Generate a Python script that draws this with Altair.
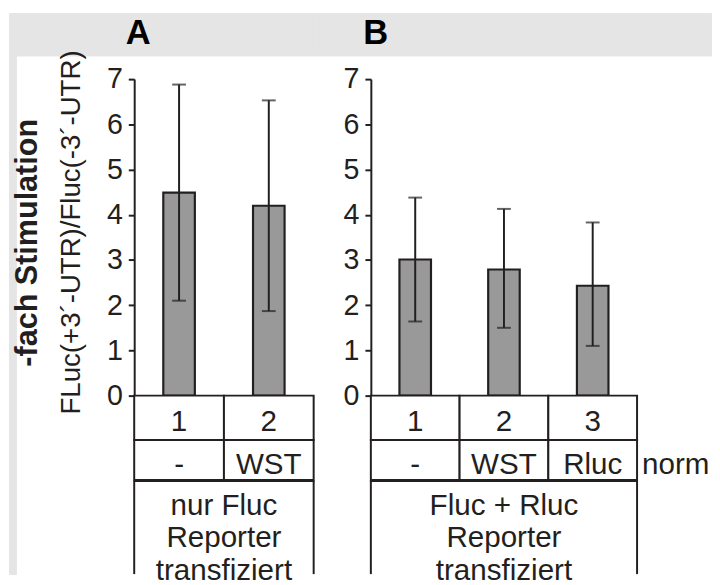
import altair as alt
import pandas as pd

# ---------------- data ----------------
panel = ["A", "A", "B", "B", "B"]
sample = ["1", "2", "1", "2", "3"]
normalization = ["-", "WST", "-", "WST", "Rluc"]
mean_val = [4.49, 4.20, 3.01, 2.79, 2.43]
err_hi = [6.88, 6.53, 4.38, 4.13, 3.83]
err_lo = [2.10, 1.87, 1.64, 1.50, 1.10]
panel_letters = ["A", "B"]
group_label = ["nur Fluc\nReporter\ntransfiziert", "Fluc + Rluc\nReporter\ntransfiziert"]
y_ticks = [0, 1, 2, 3, 4, 5, 6, 7]
y_title = "FLuc(+3´-UTR)/Fluc(-3´-UTR)"
y_title_bold = "-fach Stimulation"
norm_label = "norm"

df = pd.DataFrame({
    "panel": panel, "sample": sample, "norm": normalization,
    "mean": mean_val, "hi": err_hi, "lo": err_lo,
})

FONT = "Liberation Sans"
INK = "#231f20"
BAR = "#999999"
BG = "#e5e5e5"

# layout (pixels)
HDR_H, SPACER_H, PLOT_H = 43, 24, 321
ROW1_H, ROW2_H, ROW3_H = 45, 41, 95
C0, C1, WA, C3, WB, WB_HDR = 7, 120, 182, 58, 270, 345


def xenc():
    return alt.X("sample:N", scale=alt.Scale(paddingInner=0, paddingOuter=0), axis=None)


def blank(w, h, gray=False):
    c = alt.Chart(pd.DataFrame({"t": [""]})).mark_rect(opacity=0).encode(
        x=alt.value(0), x2=alt.value(1), y=alt.value(0), y2=alt.value(1))
    if gray:
        return c.properties(width=w, height=h, view=alt.ViewBackground(fill=BG, stroke=BG))
    return c.properties(width=w, height=h)


def header_cell(w, letter, xpos):
    t = alt.Chart(pd.DataFrame({"t": [letter]})).mark_text(
        font=FONT, fontSize=35, fontWeight="bold", color="black",
        baseline="alphabetic", align="center"
    ).encode(x=alt.value(xpos), y=alt.value(31), text="t:N")
    return t.properties(width=w, height=HDR_H, view=alt.ViewBackground(fill=BG, stroke=BG))


def bars_chart(letter, width, first):
    d = df[df["panel"] == letter]
    base = alt.Chart(d)
    axis_kw = dict(
        values=y_ticks, format="d", grid=False,
        labelFont=FONT, labelFontSize=29, labelColor=INK, labelPadding=6,
        tickColor=INK, tickSize=6, tickWidth=2,
        domainColor=INK, domainWidth=2,
    )
    if first:
        axis_kw.update(title=y_title, titleFont=FONT, titleFontSize=28,
                       titleFontWeight="normal", titleColor=INK,
                       titleAngle=270, titleBaseline="middle", titleAlign="center",
                       titleX=-63, titleY=155)
    else:
        axis_kw.update(title=None)
    Y = alt.Y("mean:Q", scale=alt.Scale(domain=[0, 7], nice=False, zero=True),
              axis=alt.Axis(**axis_kw))
    bars = base.mark_bar(size=32, fill=BAR, stroke=INK, strokeWidth=2.2).encode(x=xenc(), y=Y)
    rule = base.mark_rule(color=INK, strokeWidth=2).encode(x=xenc(), y="lo:Q", y2="hi:Q")
    cap_hi = base.mark_tick(size=14, thickness=2, color=INK).encode(x=xenc(), y="hi:Q")
    cap_lo = base.mark_tick(size=14, thickness=2, color=INK).encode(x=xenc(), y="lo:Q")
    layers = [bars, rule, cap_hi, cap_lo]
    if first:
        bold = alt.Chart(pd.DataFrame({"t": [y_title_bold]})).mark_text(
            angle=270, font=FONT, fontSize=31, fontWeight="bold", color=INK,
            baseline="middle", align="center"
        ).encode(x=alt.value(-108), y=alt.value(166), text="t:N")
        layers.append(bold)
    return alt.layer(*layers).properties(width=width, height=PLOT_H)


def row1(letter, width):
    base = alt.Chart(df[df["panel"] == letter])
    cells = base.mark_rect(fill="white", stroke=INK, strokeWidth=2).encode(
        x=xenc(), y=alt.value(0), y2=alt.value(ROW1_H))
    txt = base.mark_text(font=FONT, fontSize=30, color=INK, baseline="alphabetic").encode(
        x=xenc(), y=alt.value(36), text="sample:N")
    return alt.layer(cells, txt).properties(width=width, height=ROW1_H)


def row2(letter, width, last):
    base = alt.Chart(df[df["panel"] == letter])
    cells = base.mark_rect(fill="white", stroke=INK, strokeWidth=2).encode(
        x=xenc(), y=alt.value(0), y2=alt.value(ROW2_H))
    txt = base.mark_text(font=FONT, fontSize=30, color=INK, baseline="alphabetic").encode(
        x=xenc(), y=alt.value(34), text="norm:N")
    layers = [cells, txt]
    if last:
        nt = alt.Chart(pd.DataFrame({"t": [norm_label]})).mark_text(
            font=FONT, fontSize=30, color=INK, baseline="alphabetic", align="left"
        ).encode(x=alt.value(width + 5), y=alt.value(34), text="t:N")
        layers.append(nt)
    return alt.layer(*layers).properties(width=width, height=ROW2_H)


def row3(idx, width):
    one = alt.Chart(pd.DataFrame({"g": [group_label[idx]]}))
    left = one.mark_rule(color=INK, strokeWidth=2).encode(
        x=alt.value(0), y=alt.value(0), y2=alt.value(ROW3_H))
    right = one.mark_rule(color=INK, strokeWidth=2).encode(
        x=alt.value(width), y=alt.value(0), y2=alt.value(ROW3_H))
    top = one.mark_rule(color=INK, strokeWidth=3).encode(
        x=alt.value(0), x2=alt.value(width), y=alt.value(0))
    txt = one.mark_text(font=FONT, fontSize=30, color=INK, baseline="alphabetic",
                        lineBreak="\n", lineHeight=33).encode(
        x=alt.value(width / 2), y=alt.value(35), text="g:N")
    return alt.layer(left, right, top, txt).properties(width=width, height=ROW3_H)


cells = [
    # header row
    blank(C0, HDR_H, True), blank(C1, HDR_H, True),
    header_cell(WA, panel_letters[0], 4), blank(C3, HDR_H, True),
    header_cell(WB_HDR, panel_letters[1], 5),
    # spacer row
    blank(C0, SPACER_H, True), blank(C1, SPACER_H), blank(WA, SPACER_H),
    blank(C3, SPACER_H), blank(WB, SPACER_H),
    # bars row
    blank(C0, PLOT_H, True), blank(C1, PLOT_H), bars_chart("A", WA, True),
    blank(C3, PLOT_H), bars_chart("B", WB, False),
    # table row 1
    blank(C0, ROW1_H, True), blank(C1, ROW1_H), row1("A", WA),
    blank(C3, ROW1_H), row1("B", WB),
    # table row 2
    blank(C0, ROW2_H, True), blank(C1, ROW2_H), row2("A", WA, False),
    blank(C3, ROW2_H), row2("B", WB, True),
    # table row 3
    blank(C0, ROW3_H, True), blank(C1, ROW3_H), row3(0, WA),
    blank(C3, ROW3_H), row3(1, WB),
]

chart = alt.concat(*cells, columns=5, spacing=0, bounds="flush", align="each").properties(
    padding=0, background="white"
).configure_view(stroke="transparent")

chart.save("out.html", embed_options={"renderer": "svg", "actions": False})
